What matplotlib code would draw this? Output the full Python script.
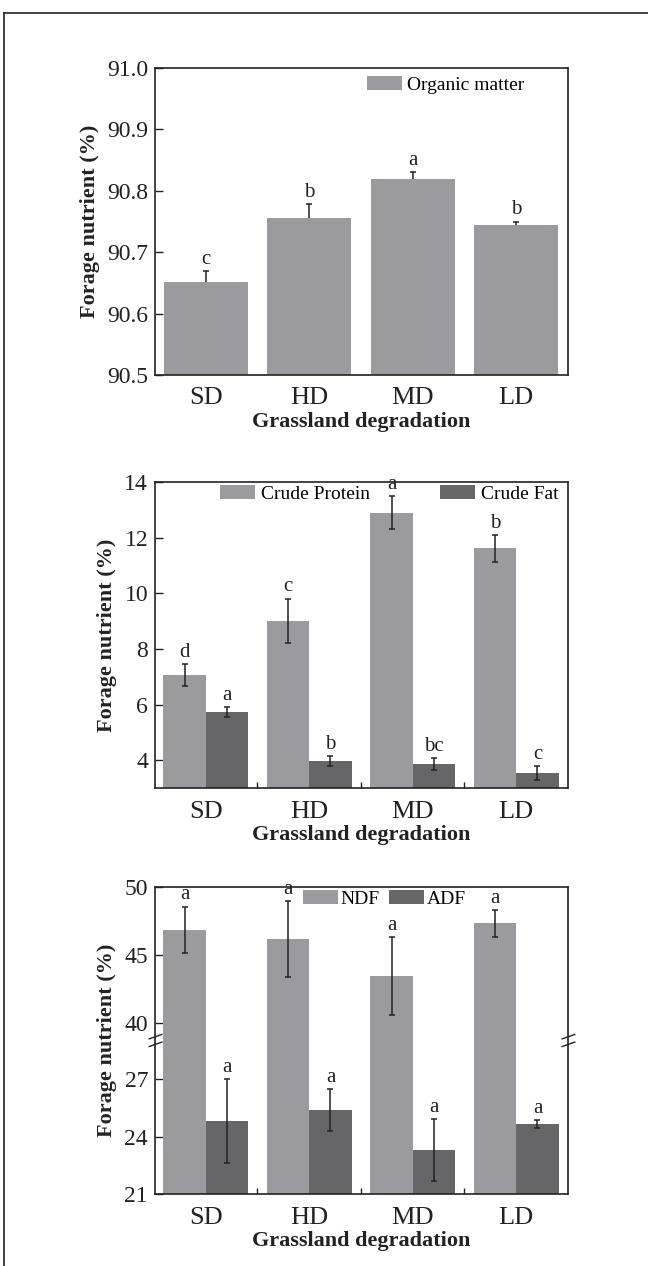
import numpy as np
import matplotlib
matplotlib.use("Agg")
import matplotlib.pyplot as plt
from matplotlib.lines import Line2D
from matplotlib.path import Path
from matplotlib.ticker import FormatStrFormatter

plt.rcParams["font.family"] = ["Liberation Serif", "DejaVu Serif"]

# ---- data ----
categories = ["SD", "HD", "MD", "LD"]

om_mean = [90.651, 90.755, 90.819, 90.744]
om_err = [0.019, 0.024, 0.012, 0.006]
om_letters = ["c", "b", "a", "b"]
om_ticks = [90.5, 90.6, 90.7, 90.8, 90.9, 91.0]

cp_mean = [7.06, 9.01, 12.90, 11.62]
cp_err = [0.39, 0.80, 0.58, 0.48]
cp_letters = ["d", "c", "a", "b"]
cf_mean = [5.73, 3.98, 3.87, 3.55]
cf_err = [0.18, 0.18, 0.22, 0.25]
cf_letters = ["a", "b", "bc", "c"]
prot_ticks = [4, 6, 8, 10, 12, 14]

ndf_mean = [46.83, 46.17, 43.44, 47.32]
ndf_err = [1.73, 2.80, 2.87, 0.98]
ndf_letters = ["a", "a", "a", "a"]
adf_mean = [24.82, 25.40, 23.30, 24.66]
adf_err = [2.19, 1.10, 1.63, 0.20]
adf_letters = ["a", "a", "a", "a"]
fib_ticks = [21, 24, 27, 40, 45, 50]
FIB_BASE = 21

LIGHT = "#9b9b9f"
DARK = "#666668"
INK = "#222222"

# broken y scale for the fibre panel
BRK_LO, BRK_HI = 29.05, 38.7
UP_RATIO = 0.71
GAP = 1e-3


def _fwd(y):
    y = np.asarray(y, dtype=float)
    s2 = (BRK_LO - 21) + (BRK_HI - BRK_LO) * GAP
    return np.where(
        y <= BRK_LO,
        y - 21,
        np.where(y <= BRK_HI, (BRK_LO - 21) + (y - BRK_LO) * GAP, s2 + (y - BRK_HI) * UP_RATIO),
    )


def _inv(s):
    s = np.asarray(s, dtype=float)
    s1 = BRK_LO - 21
    s2 = s1 + (BRK_HI - BRK_LO) * GAP
    return np.where(
        s <= s1,
        s + 21,
        np.where(s <= s2, BRK_LO + (s - s1) / GAP, BRK_HI + (s - s2) / UP_RATIO),
    )


def style_axes(ax, between_ticks):
    for sp in ax.spines.values():
        sp.set_linewidth(1.2)
        sp.set_color(INK)
    x = np.arange(len(categories))
    ax.set_xticks(x)
    ax.set_xticklabels(categories)
    ax.set_xlim(-0.49, 3.50)
    ax.tick_params(axis="x", which="major", length=0, pad=9, labelsize=19, colors=INK)
    if between_ticks:
        ax.set_xticks(x[:-1] + 0.5, minor=True)
        ax.tick_params(axis="x", which="minor", direction="in", length=4, width=1, color=INK)
    ax.tick_params(axis="y", which="major", direction="in", length=5.5, width=1,
                   pad=5, labelsize=17, colors=INK)
    ax.tick_params(axis="y", which="minor", length=0)
    ax.set_xlabel("Grassland degradation", fontsize=16, fontweight="bold", labelpad=2, color=INK)
    ax.set_ylabel("Forage nutrient (%)", fontsize=16, fontweight="bold", labelpad=5, color=INK)


def letters_on(ax, xs, tops, letters):
    for xv, tv, lt in zip(xs, tops, letters):
        ax.annotate(lt, (xv, tv), xytext=(0, 1.5), textcoords="offset points",
                    ha="center", va="bottom", fontsize=15, color=INK)


W, H = 648, 1266
fig = plt.figure(figsize=(W / 100, H / 100), dpi=100)


def add_ax(top_px, bottom_px):
    return fig.add_axes([155 / W, (H - bottom_px) / H, 413 / W, (bottom_px - top_px) / H])


x = np.arange(len(categories))

# ---- panel 1: organic matter ----
ax1 = add_ax(68, 375)
ax1.errorbar(x, om_mean, yerr=om_err, fmt="none", ecolor=INK, elinewidth=1.1,
             capsize=2.5, capthick=1.1, zorder=1)
ax1.bar(x, om_mean, width=0.81, color=LIGHT, label="Organic matter", zorder=2)
ax1.set_ylim(90.5, 91.0)
ax1.set_yticks(om_ticks)
ax1.yaxis.set_major_formatter(FormatStrFormatter("%.1f"))
style_axes(ax1, between_ticks=False)
letters_on(ax1, x, np.add(om_mean, om_err), om_letters)
ax1.legend(loc="upper left", bbox_to_anchor=(0.513, 0.975), frameon=False, fontsize=14,
           handlelength=1.8, handleheight=0.75, handletextpad=0.25,
           borderpad=0, borderaxespad=0)

# ---- panel 2: crude protein / crude fat ----
bw = 0.41
ax2 = add_ax(482, 788)
ax2.bar(x - bw / 2, cp_mean, width=bw, color=LIGHT, label="Crude Protein", zorder=2)
ax2.bar(x + bw / 2, cf_mean, width=bw, color=DARK, label="Crude Fat", zorder=2)
ax2.errorbar(x - bw / 2, cp_mean, yerr=cp_err, fmt="none", ecolor=INK, elinewidth=1.1,
             capsize=2.5, capthick=1.1, zorder=3)
ax2.errorbar(x + bw / 2, cf_mean, yerr=cf_err, fmt="none", ecolor=INK, elinewidth=1.1,
             capsize=2.5, capthick=1.1, zorder=3)
ax2.set_ylim(3, 14)
ax2.set_yticks(prot_ticks)
style_axes(ax2, between_ticks=True)
letters_on(ax2, x - bw / 2, np.add(cp_mean, cp_err), cp_letters)
letters_on(ax2, x + bw / 2, np.add(cf_mean, cf_err), cf_letters)
ax2.legend(loc="upper left", bbox_to_anchor=(0.157, 0.99), frameon=False, fontsize=14, ncol=2,
           handlelength=1.8, handleheight=0.75, handletextpad=0.3, columnspacing=3.6,
           borderpad=0, borderaxespad=0)

# ---- panel 3: NDF / ADF on a broken axis ----
ax3 = add_ax(887, 1194)
ax3.set_yscale("function", functions=(_fwd, _inv))
ax3.bar(x - bw / 2, np.subtract(ndf_mean, FIB_BASE), width=bw, bottom=FIB_BASE,
        color=LIGHT, label="NDF", zorder=2)
ax3.bar(x + bw / 2, np.subtract(adf_mean, FIB_BASE), width=bw, bottom=FIB_BASE,
        color=DARK, label="ADF", zorder=2)
ax3.errorbar(x - bw / 2, ndf_mean, yerr=ndf_err, fmt="none", ecolor=INK, elinewidth=1.1,
             capsize=2.5, capthick=1.1, zorder=3)
ax3.errorbar(x + bw / 2, adf_mean, yerr=adf_err, fmt="none", ecolor=INK, elinewidth=1.1,
             capsize=2.5, capthick=1.1, zorder=3)
ax3.set_ylim(21, 50)
ax3.set_yticks(fib_ticks)
ax3.set_yticks([], minor=True)
ax3.yaxis.set_major_formatter(FormatStrFormatter("%d"))
style_axes(ax3, between_ticks=True)
letters_on(ax3, x - bw / 2, np.add(ndf_mean, ndf_err), ndf_letters)
letters_on(ax3, x + bw / 2, np.add(adf_mean, adf_err), adf_letters)
ax3.legend(loc="upper left", bbox_to_anchor=(0.358, 0.99), frameon=False, fontsize=14, ncol=2,
           handlelength=1.8, handleheight=0.75, handletextpad=0.15, columnspacing=0.45,
           borderpad=0, borderaxespad=0)

# break marks on both spines
brk = Path([(-1, -0.9), (1, -0.2), (-1, 0.2), (1, 0.9)],
           [Path.MOVETO, Path.LINETO, Path.MOVETO, Path.LINETO])
ax3.plot([0, 1], [BRK_LO + 0.1, BRK_LO + 0.1], transform=ax3.get_yaxis_transform(),
         marker=brk, markersize=10, linestyle="none", mfc="none", mec=INK, mew=1,
         clip_on=False, zorder=5)

# outer page frame (top and left edges only)
fx, fy = 4 / W, 1 - 13 / H
fig.add_artist(Line2D([fx, 1], [fy, fy], transform=fig.transFigure, color="#333333", lw=1.3))
fig.add_artist(Line2D([fx, fx], [0, fy], transform=fig.transFigure, color="#333333", lw=1.3))

fig.savefig("out.png", dpi=100, facecolor="white")
